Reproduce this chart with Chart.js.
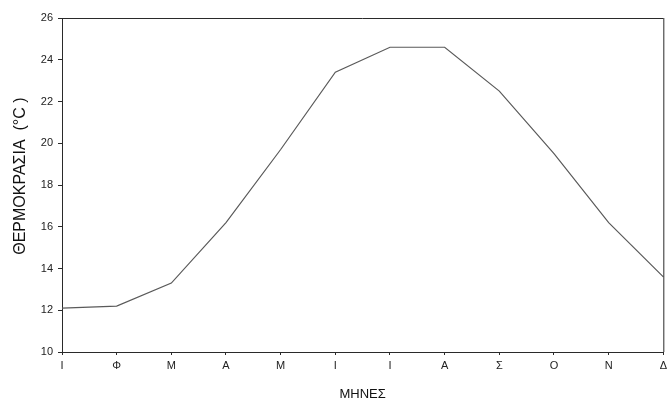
<!DOCTYPE html>
<html>
<head>
<meta charset="utf-8">
<script src="https://cdn.jsdelivr.net/npm/chart.js@4.4.0/dist/chart.umd.min.js"></script>
<style>
  body { margin: 0; background: #fff; }
  #wrap { width: 671px; height: 406px; }
</style>
</head>
<body>
<div id="wrap"><canvas id="myChart" width="671" height="406"></canvas></div>
<script>
// μήνες και μέση θερμοκρασία
const mhnes = ['Ι', 'Φ', 'Μ', 'Α', 'Μ', 'Ι', 'Ι', 'Α', 'Σ', 'Ο', 'Ν', 'Δ'];
const thermokrasia = [12.1, 12.2, 13.3, 16.2, 19.7, 23.4, 24.6, 24.6, 22.5, 19.5, 16.2, 13.6];
const y_ticks = [10, 12, 14, 16, 18, 20, 22, 24, 26];

const axisColor = '#2a2a2a';
const fontFam = "'Liberation Sans', Arial, sans-serif";

// πλαίσιο γύρω από την περιοχή του γραφήματος
const framePlugin = {
    id: 'frame',
    afterDraw(chart) {
        const a = chart.chartArea;
        const c = chart.ctx;
        c.save();
        c.strokeStyle = axisColor;
        c.lineWidth = 1;
        c.beginPath();
        c.moveTo(a.left, a.top + 0.5);
        c.lineTo(a.right, a.top + 0.5);
        c.moveTo(a.right + 0.5, a.top);
        c.lineTo(a.right + 0.5, a.bottom);
        c.stroke();
        c.restore();
    }
};

let ctx = document.getElementById('myChart').getContext('2d');
let wykres = new Chart(ctx, {
    type: 'line',
    data: {
        labels: mhnes,
        datasets: [{
            data: thermokrasia,
            borderColor: '#5a5a5a',
            borderWidth: 1.2,
            pointRadius: 0,
            tension: 0,
            fill: false
        }]
    },
    options: {
        responsive: false,
        animation: false,
        layout: { padding: { top: 18, right: 6, left: 0, bottom: 0 } },
        plugins: {
            legend: { display: false },
            tooltip: { enabled: false }
        },
        scales: {
            x: {
                offset: false,
                afterFit: (s) => { s.height = 54; },
                grid: { display: true, drawOnChartArea: false, drawTicks: true, tickLength: 3, color: axisColor },
                border: { display: true, color: axisColor, width: 1 },
                ticks: {
                    color: '#222', padding: 4, maxRotation: 0, autoSkip: false,
                    font: { family: fontFam, size: 11 }
                },
                title: {
                    display: true, text: 'ΜΗΝΕΣ', color: '#111',
                    font: { family: fontFam, size: 13 },
                    padding: { top: 0, bottom: 4 }
                }
            },
            y: {
                min: 10, max: 26,
                afterFit: (s) => { s.width = 62; },
                afterBuildTicks: (s) => { s.ticks = y_ticks.map(v => ({ value: v })); },
                grid: { display: true, drawOnChartArea: false, drawTicks: true, tickLength: 4, color: axisColor },
                border: { display: true, color: axisColor, width: 1 },
                ticks: {
                    color: '#222', padding: 5,
                    font: { family: fontFam, size: 11 }
                },
                title: {
                    display: true, text: '    ΘΕΡΜΟΚΡΑΣΙΑ  (°C )', color: '#111',
                    font: { family: fontFam, size: 16 },
                    padding: { top: 11, bottom: 0 }
                }
            }
        }
    },
    plugins: [framePlugin]
});
</script>
</body>
</html>
